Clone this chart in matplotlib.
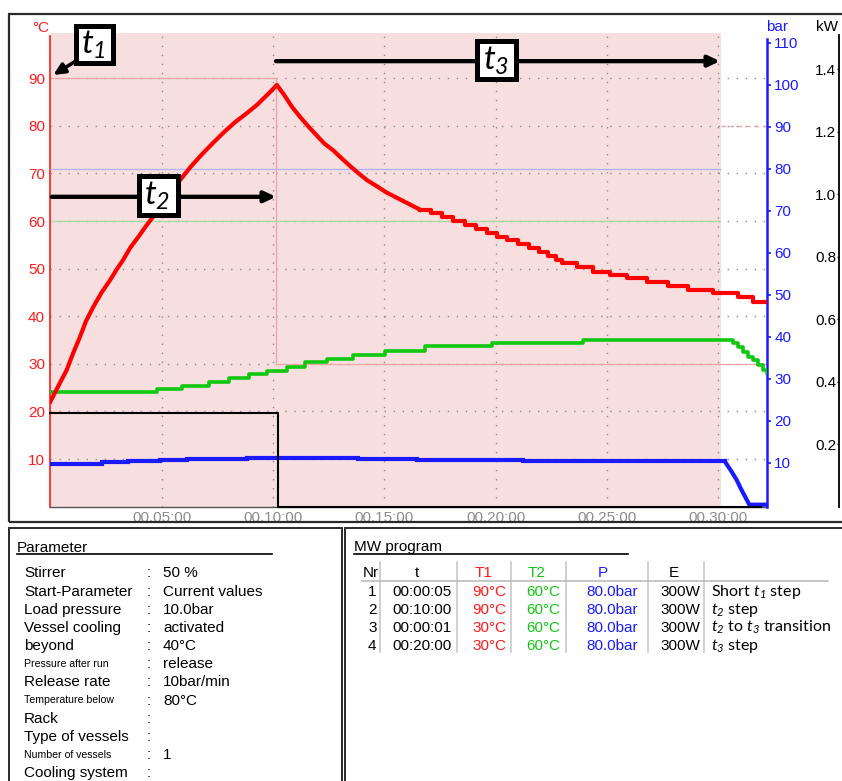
import matplotlib
matplotlib.use("Agg")
import matplotlib.pyplot as plt
from matplotlib.patches import Rectangle, FancyArrowPatch
from matplotlib.lines import Line2D

plt.rcParams['font.family'] = ['Liberation Sans', 'DejaVu Sans']
plt.rcParams['mathtext.fontset'] = 'custom'
plt.rcParams['mathtext.it'] = 'Lato:italic'
plt.rcParams['mathtext.rm'] = 'Lato:italic'
plt.rcParams['mathtext.bf'] = 'Lato:bold'

# ---------------- data ----------------
time_ticks = [5, 10, 15, 20, 25, 30]
time_labels = ['00.05:00', '00.10:00', '00.15:00', '00.20:00', '00.25:00', '00.30:00']
temp_ticks = [10, 20, 30, 40, 50, 60, 70, 80, 90]
bar_ticks = [10, 20, 30, 40, 50, 60, 70, 80, 90, 100, 110]
kw_ticks = [0.2, 0.4, 0.6, 0.8, 1.0, 1.2, 1.4]

# T1 (red) heating and fast cooling (minutes, degC)
T1_a_t = [0, 0.35, 0.73, 1.0, 1.33, 1.6, 1.93, 2.3, 2.68, 3.0, 3.26, 3.6, 4.0, 4.3, 4.61,
          5.0, 5.4, 5.82, 6.3, 6.8, 7.3, 7.8, 8.3, 8.83, 9.3, 9.8, 10.17, 10.5, 10.85,
          11.21, 11.6, 12.0, 12.3, 12.69, 13.1, 13.5, 13.85, 14.22, 14.7, 15.1, 15.6,
          16.1, 16.6]
T1_a = [22.1, 25.3, 28.7, 32.0, 35.7, 39.0, 42.0, 45.0, 47.6, 50.0, 51.8, 54.5, 57.0, 59.0,
        60.9, 63.5, 66.0, 68.6, 71.4, 74.0, 76.4, 78.7, 80.8, 82.7, 84.5, 86.8, 88.6, 86.5,
        84.0, 81.9, 79.8, 77.8, 76.3, 74.9, 73.1, 71.4, 70.0, 68.6, 67.2, 66.0, 64.8, 63.6,
        62.4]
# T1 slow cooling tail (stepped)
T1_b_t = [16.6, 17.1, 17.6, 18.1, 18.6, 19.1, 19.6, 20.05, 20.5, 21.0, 21.5, 21.95, 22.35,
          22.7, 22.96, 23.63, 24.38, 25.13, 25.88, 26.78, 27.75, 28.64, 29.77, 30.89, 31.56,
          32.17]
T1_b = [62.4, 61.6, 60.8, 60.0, 59.2, 58.4, 57.5, 56.7, 56.0, 55.2, 54.4, 53.6, 52.7, 51.8,
        51.1, 50.3, 49.4, 48.7, 48.0, 47.1, 46.4, 45.5, 44.8, 44.0, 43.1, 43.1]

# T2 (green), stepped
T2_t = [0, 4.77, 5.92, 7.14, 8.03, 8.93, 9.71, 10.61, 11.43, 12.41, 13.57, 15.02, 16.82,
        19.82, 23.92, 30.59, 30.67, 30.89, 31.11, 31.34, 31.56, 31.79, 32.0, 32.17]
T2 = [24.0, 24.7, 25.4, 26.2, 27.0, 27.8, 28.6, 29.4, 30.3, 31.0, 31.9, 32.7, 33.8, 34.3,
      35.0, 35.0, 34.3, 33.5, 32.6, 31.5, 30.8, 29.8, 28.8, 28.0]

# Pressure (blue, bar)
P_a_t = [0, 2.3, 3.5, 4.92, 6.12, 7.54, 8.81, 13.83, 16.45, 21.24, 27.37, 30.29]
P_a = [9.7, 10.1, 10.4, 10.6, 10.8, 10.95, 11.1, 10.9, 10.7, 10.4, 10.3, 10.3]
P_b_t = [30.29, 30.59, 30.82, 31.04, 31.39, 32.17]
P_b = [10.3, 7.9, 5.9, 3.5, 0.0, 0.0]

# Power (black, kW)
E_t = [0, 10.2, 31.9]
E = [0.30, 0.0, 0.0]

# set points
run_end = 30.1
T1_set_t = [0, 10.12, 32.17]
T1_set = [90, 30, 30]
T2_set = 60
P_set = 80
temp_below = 80

# parameter panel
param_names = ["Stirrer", "Start-Parameter", "Load pressure", "Vessel cooling", "beyond",
               "Pressure after run", "Release rate", "Temperature below", "Rack",
               "Type of vessels", "Number of vessels", "Cooling system"]
param_values = ["50 %", "Current values", "10.0bar", "activated", "40°C", "release",
                "10bar/min", "80°C", "", "", "1", ""]

# MW program table
prog_nr = ["1", "2", "3", "4"]
prog_t = ["00:00:05", "00:10:00", "00:00:01", "00:20:00"]
prog_T1 = ["90°C", "90°C", "30°C", "30°C"]
prog_T2 = ["60°C", "60°C", "60°C", "60°C"]
prog_P = ["80.0bar", "80.0bar", "80.0bar", "80.0bar"]
prog_E = ["300W", "300W", "300W", "300W"]
prog_note = [r"Short $t_1$ step", r"$t_2$ step",
             r"$t_2$ to $t_3$ transition", r"$t_3$ step"]

# ---------------- styling ----------------
RED = '#ff1a1a'
GREEN = '#10c810'
BLUE = '#1a1aff'
PINK = '#f7dfe0'
GRID = '#8a8a8a'

W, H = 842, 781
fig = plt.figure(figsize=(W / 100, H / 100), dpi=100)


def X(x):
    return x / W


def Y(y):
    return 1 - y / H


L, R, T, B = 50.4, 766.7, 33.3, 506.7
pos = [X(L), Y(B), (R - L) / W, (B - T) / H]
XMAX = 32.17

ax = fig.add_axes(pos)
ax.set_xlim(0, XMAX)
ax.set_ylim(0, 99.45)
ax.axvspan(0, run_end, color=PINK, zorder=0, lw=0)
ax.grid(True, color=GRID, lw=1.0, linestyle=(0, (1, 5.5)))
for s in ('top', 'right'):
    ax.spines[s].set_visible(False)
ax.spines['left'].set_color(RED)
ax.spines['left'].set_linewidth(1.2)
ax.spines['left'].set_bounds(0, 98.9)
ax.spines['bottom'].set_color('#555555')
ax.spines['bottom'].set_linewidth(1.0)
ax.set_xticks(time_ticks)
ax.set_xticklabels(time_labels)
ax.set_yticks(temp_ticks)
ax.tick_params(axis='x', length=0, pad=3, labelsize=11, labelcolor='#8c8c8c')
ax.tick_params(axis='y', length=0, pad=3.9, labelsize=11, labelcolor=RED)

# set point lines
ax.step(T1_set_t, T1_set, where='post', color='#f2a4a4', lw=0.9, zorder=1.8)
ax.hlines(temp_below, run_end, XMAX, color='#f2a4a4', lw=1.0, linestyles=(0, (3, 3)), zorder=1.8)
ax.hlines(T2_set, 0, run_end, color='#a6dca6', lw=1.0, zorder=1.8)

# pressure axis
axb = ax.twinx()
axb.set_ylim(-0.48, 112.24)
for s in ('top', 'left', 'bottom'):
    axb.spines[s].set_visible(False)
axb.spines['right'].set_color(BLUE)
axb.spines['right'].set_linewidth(1.8)
axb.spines['right'].set_bounds(-0.48, 111.0)
axb.set_yticks(bar_ticks)
axb.tick_params(axis='y', direction='out', length=3, width=1.2, color=BLUE,
                pad=2.4, labelsize=11, labelcolor=BLUE)
axb.hlines(P_set, 0, run_end, color='#b4b4f2', lw=1.0, zorder=1.8)
axb.step(P_a_t, P_a, where='post', color=BLUE, lw=3.0, solid_joinstyle='miter', zorder=3)
axb.plot(P_b_t, P_b, color=BLUE, lw=3.0, zorder=3)

# power data
axk = ax.twinx()
axk.set_ylim(0, 1.515)
axk.axis('off')
axk.step(E_t, E, where='post', color='black', lw=1.5, clip_on=False, zorder=3)

# temperatures on top
axT = ax.twinx()
axT.set_ylim(0, 99.45)
axT.axis('off')
axT.step(T2_t, T2, where='post', color=GREEN, lw=2.6, zorder=3)
axT.plot(T1_a_t, T1_a, color='#ff0000', lw=3.0, zorder=4)
axT.step(T1_b_t, T1_b, where='post', color='#ff0000', lw=3.0, zorder=4)

# kW scale
axs = fig.add_axes([X(839.3), Y(B), 0.0001, (B - 35) / H])
axs.set_ylim(0, (B - 35) / 312.5)
axs.patch.set_visible(False)
axs.set_xticks([])
for s in ('top', 'right', 'bottom'):
    axs.spines[s].set_visible(False)
axs.spines['left'].set_linewidth(1.3)
axs.set_yticks(kw_ticks)
axs.set_yticklabels([f"{v:.1f}" for v in kw_ticks])
axs.tick_params(axis='y', direction='out', length=1.5, width=1.0, pad=0.6, labelsize=11)

# axis unit labels
fig.text(X(49), Y(27.5), '°C', color=RED, fontsize=11, ha='right', va='center')
fig.text(X(766), Y(26.7), 'bar', color=BLUE, fontsize=11, ha='left', va='center')
fig.text(X(838), Y(26.7), 'kW', color='black', fontsize=11, ha='right', va='center')

# ---------------- annotations ----------------
def arrow(p0, p1, lw=3.1):
    a = FancyArrowPatch(p0, p1, transform=ax.transData,
                        arrowstyle='-|>,head_length=0.42,head_width=0.2',
                        mutation_scale=16, lw=lw, color='black',
                        shrinkA=0, shrinkB=0, zorder=5)
    fig.add_artist(a)


arrow((0.06, 65.1), (10.13, 65.1))
arrow((10.13, 93.6), (30.07, 93.6))
arrow((1.1, 93.5), (0.13, 90.7), lw=2.6)


def tbox(x0, y0, x1, y1, label):
    r = Rectangle((X(x0), Y(y1)), X(x1) - X(x0), Y(y0) - Y(y1), transform=fig.transFigure,
                  facecolor='white', edgecolor='black', lw=3.6, zorder=6)
    fig.add_artist(r)
    fig.text(X((x0 + x1) / 2 - 1), Y((y0 + y1) / 2 + 0.5), label, fontsize=24,
             ha='center', va='center', zorder=7)


tbox(75.8, 25.8, 112.5, 62.5, r'$t_1$')
tbox(139.2, 176.5, 177.5, 214.8, r'$t_2$')
tbox(477.5, 41.5, 515.8, 79.2, r'$t_3$')

# ---------------- panel frames ----------------
def frame(x0, y0, x1, y1, lw=1.4):
    r = Rectangle((X(x0), Y(y1)), X(x1) - X(x0), Y(y0) - Y(y1), transform=fig.transFigure,
                  facecolor='none', edgecolor='#2a2a2a', lw=lw, zorder=8)
    fig.add_artist(r)


frame(8.5, 14, 860, 522.3, lw=1.6)
frame(8.5, 528, 341.7, 800)
frame(345, 528, 860, 800)


def hline(x0, x1, y, color='black', lw=1.2):
    fig.add_artist(Line2D([X(x0), X(x1)], [Y(y), Y(y)], color=color, lw=lw,
                          transform=fig.transFigure))


def vline(x, y0, y1, color='#c8c8c8', lw=1.2):
    fig.add_artist(Line2D([X(x), X(x)], [Y(y0), Y(y1)], color=color, lw=lw,
                          transform=fig.transFigure))


# ---------------- parameter panel ----------------
fig.text(X(17), Y(551.5), 'Parameter', fontsize=11, va='baseline', ha='left')
hline(17, 272, 553.6)
small_rows = {"Pressure after run", "Temperature below", "Number of vessels"}
for i, (name, val) in enumerate(zip(param_names, param_values)):
    yc = 571.9 + i * 18.2
    fs = 7.6 if name in small_rows else 11
    fig.text(X(24), Y(yc + (3.8 if fs < 10 else 5.4)), name, fontsize=fs,
             va='baseline', ha='left')
    fig.text(X(146.5), Y(yc + 5.4), ':', fontsize=11, va='baseline', ha='left')
    fig.text(X(163), Y(yc + 5.4), val, fontsize=11, va='baseline', ha='left')

# ---------------- MW program panel ----------------
fig.text(X(354), Y(551.5), 'MW program', fontsize=11, va='baseline', ha='left')
hline(354, 628, 553.6)

hdr_y = 571.7 + 5.4
fig.text(X(378.5), Y(hdr_y), 'Nr', fontsize=11, ha='right', va='baseline')
fig.text(X(417.3), Y(hdr_y), 't', fontsize=11, ha='center', va='baseline')
fig.text(X(483.3), Y(hdr_y), 'T1', fontsize=11, ha='center', va='baseline', color=RED)
fig.text(X(536.5), Y(hdr_y), 'T2', fontsize=11, ha='center', va='baseline', color=GREEN)
fig.text(X(602.5), Y(hdr_y), 'P', fontsize=11, ha='center', va='baseline', color=BLUE)
fig.text(X(674), Y(hdr_y), 'E', fontsize=11, ha='center', va='baseline')

for xs in (380, 457.3, 511, 566, 648.3, 704):
    vline(xs, 561.7, 651.7)
hline(361.7, 828.3, 580.7, color='#bdbdbd', lw=1.2)

for i in range(len(prog_nr)):
    yb = 590.7 + i * 18 + 5.4
    fig.text(X(376.5), Y(yb), prog_nr[i], fontsize=11, ha='right', va='baseline')
    fig.text(X(452), Y(yb), prog_t[i], fontsize=11, ha='right', va='baseline')
    fig.text(X(506.7), Y(yb), prog_T1[i], fontsize=11, ha='right', va='baseline', color=RED)
    fig.text(X(560.7), Y(yb), prog_T2[i], fontsize=11, ha='right', va='baseline', color=GREEN)
    fig.text(X(637.7), Y(yb), prog_P[i], fontsize=11, ha='right', va='baseline', color=BLUE)
    fig.text(X(700), Y(yb), prog_E[i], fontsize=11, ha='right', va='baseline')
    fig.text(X(710.7), Y(yb), prog_note[i], fontsize=11.5, ha='left', va='baseline',
             family=['Lato', 'DejaVu Sans'])

fig.savefig('out.png', dpi=100)
